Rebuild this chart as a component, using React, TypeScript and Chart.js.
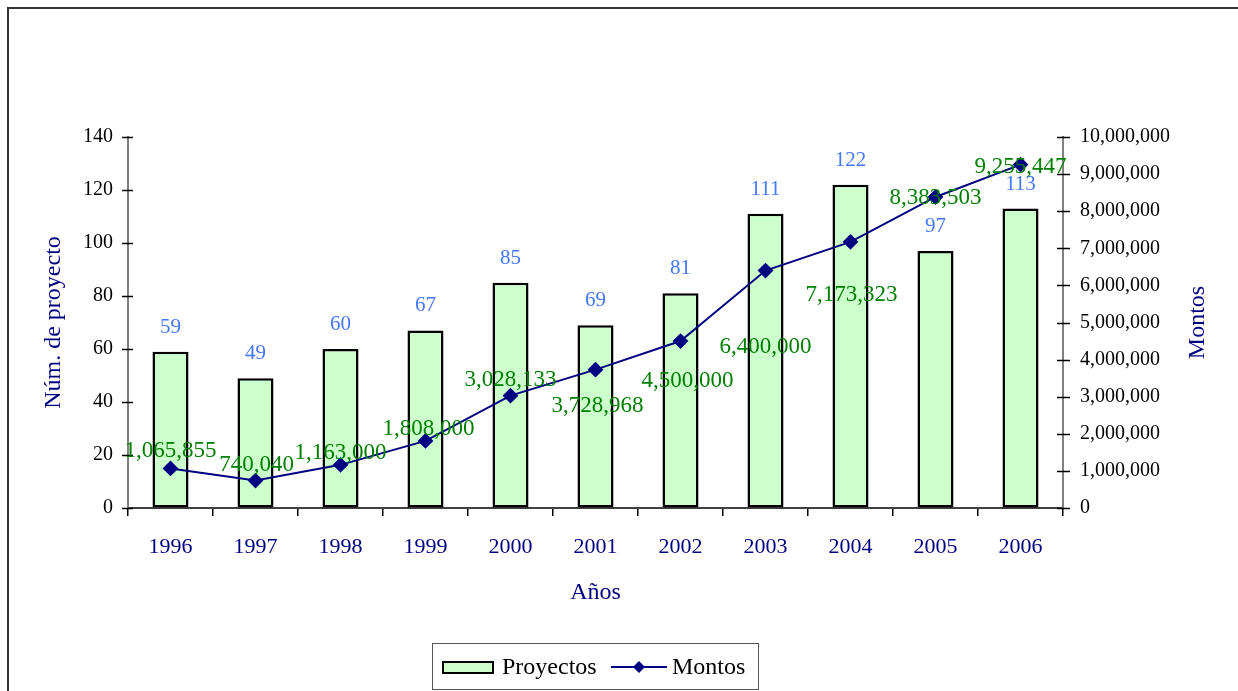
import React, { useEffect, useRef } from "react";
import { Chart, registerables } from "chart.js";

Chart.register(...registerables);

const categories = ["1996", "1997", "1998", "1999", "2000", "2001", "2002", "2003", "2004", "2005", "2006"];
const proyectos = [59, 49, 60, 67, 85, 69, 81, 111, 122, 97, 113];
const montos = [1065855, 740040, 1163000, 1808000, 3028133, 3728968, 4500000, 6400000, 7173323, 8383503, 9255447];
const leftAxisMax = 140;
const leftAxisStep = 20;
const rightAxisMax = 10000000;
const rightAxisStep = 1000000;

// label placement offsets (dx, dy) for Montos labels, relative to each point
const montoLabelOffsets = [
  [0, -19], [1, -17.5], [0, -13.5], [3, -13.5], [0, -17], [2, 35],
  [7, 38.5], [0, 75], [1, 52], [0, 0], [0, 1],
];

const FONT = "'Liberation Serif', 'Times New Roman', serif";
const NAVY = "#000080";
const BAR_FILL = "#ccffcc";
const fmt = (v: number) => Math.round(v).toLocaleString("en-US");

const customPlugin = {
  id: "customDraw",
  beforeDraw(chart: any) {
    const ctx = chart.ctx;
    ctx.save();
    ctx.fillStyle = "#ffffff";
    ctx.fillRect(0, 0, chart.width, chart.height);
    ctx.strokeStyle = "#333333";
    ctx.lineWidth = 2;
    ctx.strokeRect(8, 8, chart.width + 50, chart.height + 50);
    ctx.restore();
  },
  afterDraw(chart: any) {
    const ctx = chart.ctx;
    const area = chart.chartArea;
    ctx.save();

    // crossing tick marks on y axes
    ctx.strokeStyle = "#000000";
    ctx.lineWidth = 1.5;
    const ys = chart.scales.y;
    ys.ticks.forEach((t: any) => {
      const py = Math.round(ys.getPixelForValue(t.value)) + 0.5;
      ctx.beginPath();
      ctx.moveTo(area.left - 6, py);
      ctx.lineTo(area.left + 5, py);
      ctx.stroke();
    });
    const yr = chart.scales.y1;
    yr.ticks.forEach((t: any) => {
      const py = Math.round(yr.getPixelForValue(t.value)) + 0.5;
      ctx.beginPath();
      ctx.moveTo(area.right - 6, py);
      ctx.lineTo(area.right + 7, py);
      ctx.stroke();
    });

    // bar value labels
    ctx.textAlign = "center";
    ctx.textBaseline = "alphabetic";
    ctx.font = `21px ${FONT}`;
    ctx.fillStyle = "#4477ff";
    const barMeta = chart.getDatasetMeta(0);
    barMeta.data.forEach((el: any, i: number) => {
      const cy = el.y - 26;
      ctx.fillText(String(proyectos[i]), el.x, cy + 7);
    });

    // line value labels
    ctx.font = `23px ${FONT}`;
    ctx.fillStyle = "#008000";
    const lineMeta = chart.getDatasetMeta(1);
    lineMeta.data.forEach((el: any, i: number) => {
      const [dx, dy] = montoLabelOffsets[i];
      ctx.fillText(fmt(montos[i]), el.x + dx, el.y + dy + 7.5);
    });

    // axis titles
    ctx.fillStyle = NAVY;
    ctx.font = `24px ${FONT}`;
    ctx.textBaseline = "middle";
    ctx.fillText("Años", (area.left + area.right) / 2, 593);
    ctx.save();
    ctx.translate(54, (area.top + area.bottom) / 2);
    ctx.rotate(-Math.PI / 2);
    ctx.fillText("Núm. de proyecto", 0, 0);
    ctx.restore();
    ctx.save();
    ctx.translate(1198, (area.top + area.bottom) / 2);
    ctx.rotate(-Math.PI / 2);
    ctx.fillText("Montos", 0, 0);
    ctx.restore();

    // legend
    const bx = 432, by = 643, bw = 326, bh = 46;
    ctx.fillStyle = "#ffffff";
    ctx.fillRect(bx, by, bw, bh);
    ctx.strokeStyle = "#555555";
    ctx.lineWidth = 1;
    ctx.strokeRect(bx + 0.5, by + 0.5, bw, bh);
    ctx.fillStyle = BAR_FILL;
    ctx.fillRect(443, 662, 50, 11);
    ctx.strokeStyle = "#000000";
    ctx.lineWidth = 2;
    ctx.strokeRect(443, 662, 50, 11);
    ctx.fillStyle = "#000000";
    ctx.font = `24px ${FONT}`;
    ctx.textAlign = "left";
    ctx.textBaseline = "alphabetic";
    ctx.fillText(chart.data.datasets[0].label, 502, 674);
    ctx.strokeStyle = NAVY;
    ctx.lineWidth = 2;
    ctx.beginPath();
    ctx.moveTo(611, 667);
    ctx.lineTo(667, 667);
    ctx.stroke();
    ctx.fillStyle = NAVY;
    ctx.beginPath();
    ctx.moveTo(639, 661);
    ctx.lineTo(645, 667);
    ctx.lineTo(639, 673);
    ctx.lineTo(633, 667);
    ctx.closePath();
    ctx.fill();
    ctx.fillStyle = "#000000";
    ctx.fillText(chart.data.datasets[1].label, 672, 674);

    ctx.restore();
  },
};

export default function App() {
  const canvasRef = useRef<HTMLCanvasElement | null>(null);

  useEffect(() => {
    if (!canvasRef.current) return;
    const chart = new Chart(canvasRef.current, {
      type: "bar",
      data: {
        labels: categories,
        datasets: [
          {
            type: "bar",
            label: "Proyectos",
            data: proyectos,
            backgroundColor: BAR_FILL,
            borderColor: "#000000",
            borderWidth: 2.5,
            borderSkipped: false,
            barPercentage: 0.424,
            categoryPercentage: 1,
            yAxisID: "y",
            order: 2,
          },
          {
            type: "line",
            label: "Montos",
            data: montos,
            borderColor: NAVY,
            backgroundColor: NAVY,
            borderWidth: 2,
            pointStyle: "rectRot",
            pointRadius: 6.5,
            pointBackgroundColor: NAVY,
            pointBorderColor: NAVY,
            tension: 0,
            yAxisID: "y1",
            order: 1,
          } as any,
        ],
      },
      options: {
        responsive: false,
        animation: false,
        devicePixelRatio: 1,
        layout: { padding: { top: 137, left: 0, right: 0, bottom: 0 } },
        plugins: {
          legend: { display: false },
          tooltip: { enabled: false },
          title: { display: false },
        },
        scales: {
          x: {
            type: "category",
            offset: true,
            grid: {
              display: true,
              drawOnChartArea: false,
              offset: true,
              drawTicks: true,
              tickLength: 8,
              color: "#000000",
              lineWidth: 1.5,
            },
            border: { display: true, color: "#404040", width: 2 },
            ticks: {
              color: NAVY,
              font: { family: FONT, size: 22 },
              padding: 18,
              maxRotation: 0,
              autoSkip: false,
            },
            afterFit: (scale: any) => {
              scale.height = 691 - 508;
            },
          },
          y: {
            type: "linear",
            position: "left",
            min: 0,
            max: leftAxisMax,
            grid: { display: true, drawOnChartArea: false, drawTicks: false },
            border: { display: true, color: "#808080", width: 2 },
            ticks: {
              stepSize: leftAxisStep,
              color: "#000000",
              font: { family: FONT, size: 20 },
              padding: 15,
            },
            afterFit: (scale: any) => {
              scale.width = 128;
            },
          },
          y1: {
            type: "linear",
            position: "right",
            min: 0,
            max: rightAxisMax,
            grid: { display: true, drawOnChartArea: false, drawTicks: false },
            border: { display: true, color: "#808080", width: 2 },
            ticks: {
              stepSize: rightAxisStep,
              color: "#000000",
              font: { family: FONT, size: 20 },
              padding: 17,
              callback: (v: any) => fmt(Number(v)),
            },
            afterFit: (scale: any) => {
              scale.width = 1238 - 1063;
            },
          },
        },
      } as any,
      plugins: [customPlugin],
    });
    return () => chart.destroy();
  }, []);

  return (
    <div style={{ position: "absolute", left: 0, top: 0, width: 1238, height: 691 }}>
      <canvas ref={canvasRef} width={1238} height={691} style={{ display: "block" }} />
    </div>
  );
}
